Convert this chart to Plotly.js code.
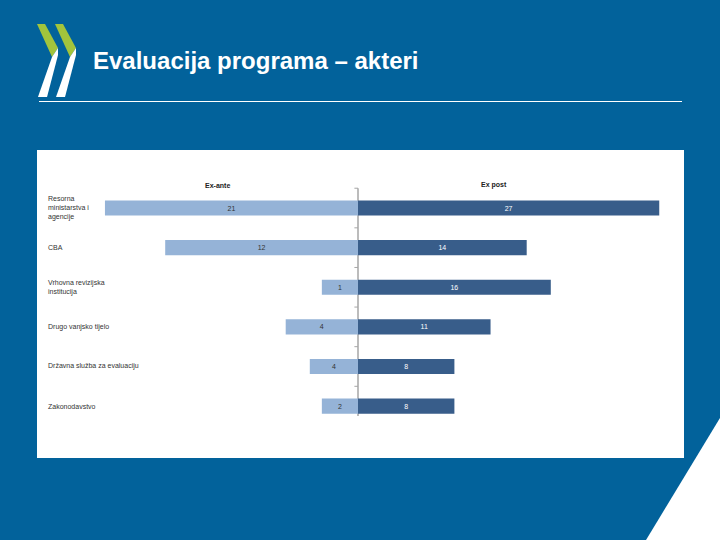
<!DOCTYPE html>
<html>
<head>
<meta charset="utf-8">
<script src="https://cdn.plot.ly/plotly-3.0.1.min.js"></script>
<style>html,body{margin:0;padding:0;background:#02629B;}#chart{width:720px;height:540px;}</style>
</head>
<body>
<div id="chart"></div>
<script>
// ---- data ----
const categories = ["Resorna ministarstva i agencije", "CBA", "Vrhovna revizijska institucija",
                    "Drugo vanjsko tijelo", "Državna služba za evaluaciju", "Zakonodavstvo"];
const categoryLabels = ["Resorna<br>ministarstva i<br>agencije", "CBA", "Vrhovna revizijska<br>institucija",
                        "Drugo vanjsko tijelo", "Državna služba za evaluaciju", "Zakonodavstvo"];
const exAnte = [21, 16, 3, 6, 4, 3];          // bar lengths as drawn
const exAnteLabels = ["21", "12", "1", "4", "4", "2"];   // data labels as printed
const exPost = [25, 14, 16, 11, 8, 8];
const exPostLabels = ["27", "14", "16", "11", "8", "8"];
const seriesNames = ["Ex-ante", "Ex post"];
const slideTitle = "Evaluacija programa – akteri";

// ---- helpers: pixel -> paper coords (plot area 37..684 x 150..458) ----
const L = 37, R = 684, T = 150, B = 458;
const px = x => (x - L) / (R - L);
const py = y => (B - y) / (B - T);
function path(pts) {
  return "M" + pts.map(p => px(p[0]).toFixed(4) + "," + py(p[1]).toFixed(4)).join(" L") + " Z";
}

const lightBlue = "#95B3D7", darkBlue = "#385D8A", bg = "#02629B", green = "#A2C43C";

const traces = [
  {
    type: "bar", orientation: "h", name: seriesNames[0],
    y: categories, x: exAnte.map(v => -v),
    text: exAnteLabels, textposition: "inside", insidetextanchor: "middle",
    textfont: {family: "Liberation Sans, Arial, sans-serif", size: 7, color: "#333333"},
    marker: {color: lightBlue}, width: 0.38, hoverinfo: "none", cliponaxis: false
  },
  {
    type: "bar", orientation: "h", name: seriesNames[1],
    y: categories, x: exPost,
    text: exPostLabels, textposition: "inside", insidetextanchor: "middle",
    textfont: {family: "Liberation Sans, Arial, sans-serif", size: 7, color: "#FFFFFF"},
    marker: {color: darkBlue}, width: 0.38, hoverinfo: "none", cliponaxis: false
  }
];

const annotations = categories.map((c, i) => ({
  xref: "paper", yref: "y", x: px(46), y: c, xanchor: "left", yanchor: "middle",
  text: categoryLabels[i], showarrow: false, align: "left",
  font: {family: "Liberation Sans, Arial, sans-serif", size: 7, color: "#333333"}
}));
annotations.push({
  xref: "x", yref: "y", x: -11.7, y: -0.58, text: "<b>" + seriesNames[0] + "</b>", showarrow: false,
  font: {family: "Liberation Sans, Arial, sans-serif", size: 7, color: "#222222"}
});
annotations.push({
  xref: "x", yref: "y", x: 11.3, y: -0.58, text: "<b>" + seriesNames[1] + "</b>", showarrow: false,
  font: {family: "Liberation Sans, Arial, sans-serif", size: 7, color: "#222222"}
});

const shapes = [];
// central axis line with ticks between categories
shapes.push({type: "line", xref: "x", yref: "y", x0: 0, x1: 0, y0: -0.5, y1: 5.25,
  line: {color: "#A6A6A6", width: 1.5}, layer: "below"});
const boundaries = [-0.5, 0.5, 1.5, 2.5, 3.5, 4.5];
boundaries.forEach(b => shapes.push({type: "line", xref: "x", yref: "y", x0: -0.3, x1: 0, y0: b, y1: b,
  line: {color: "#A6A6A6", width: 1}, layer: "below"}));
// title underline
shapes.push({type: "line", xref: "paper", yref: "paper", x0: px(39), x1: px(682), y0: py(101.5), y1: py(101.5),
  line: {color: "#FFFFFF", width: 1}});
// OECD logo chevrons
[0, 18].forEach(d => {
  shapes.push({type: "path", xref: "paper", yref: "paper",
    path: path([[37 + d, 24], [45 + d, 24], [58 + d, 48], [52 + d, 57]]),
    fillcolor: green, line: {width: 0}});
  shapes.push({type: "path", xref: "paper", yref: "paper",
    path: path([[52 + d, 57], [58 + d, 48], [58 + d, 55], [47 + d, 97], [38 + d, 97]]),
    fillcolor: "#FFFFFF", line: {width: 0}});
});
// white corner triangle
shapes.push({type: "path", xref: "paper", yref: "paper",
  path: path([[720, 418], [720, 540], [646, 540]]), fillcolor: "#FFFFFF", line: {width: 0}});

const layout = {
  width: 720, height: 540,
  paper_bgcolor: bg, plot_bgcolor: "#FFFFFF",
  margin: {l: L, r: 720 - R, t: T, b: 540 - B, pad: 0},
  barmode: "overlay", showlegend: false,
  title: {text: "<b>" + slideTitle + "</b>", xref: "container", yref: "container",
    x: 93 / 720, xanchor: "left", y: 1 - 61 / 540, yanchor: "middle",
    font: {family: "Liberation Sans, Arial, sans-serif", size: 24, color: "#FFFFFF"}},
  xaxis: {range: [(L - 358) / 12.05, (R - 358) / 12.05], visible: false, fixedrange: true},
  yaxis: {type: "category", range: [6.31, -1.465], showticklabels: false, showgrid: false,
    zeroline: false, showline: false, ticks: "", fixedrange: true},
  annotations: annotations, shapes: shapes
};

Plotly.newPlot("chart", traces, layout, {displayModeBar: false, staticPlot: true});
</script>
</body>
</html>
